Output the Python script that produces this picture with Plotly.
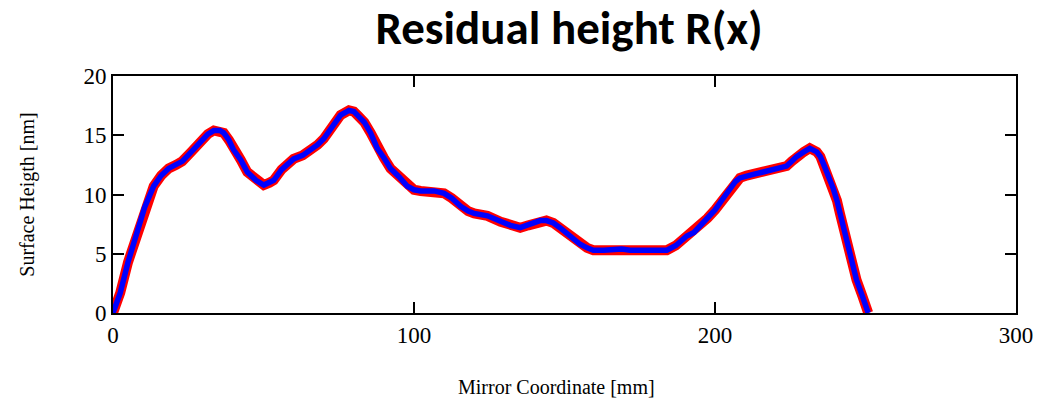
import plotly.graph_objects as go

# Mirror coordinate [mm] and residual height [nm]
x_mm = [0, 2.4, 5, 8, 10.5, 13.5, 16, 18.5, 21, 23, 26, 29, 31.5, 33.5, 35.5, 36.8,
        38.5, 40, 42.5, 44.6, 47.5, 50.1, 52, 53.4, 56, 58, 60, 63, 66.2, 68, 70,
        73, 75.6, 78.4, 80, 81.2, 83.5, 85.6, 87.8, 90, 92.2, 95, 97.8, 100, 102.2,
        106.7, 110, 112.5, 115.5, 118, 120, 124.4, 128.8, 132, 135.3, 138, 141.9,
        144, 146.3, 148.5, 150.7, 153, 155.2, 157.5, 159.6, 163, 166.2, 169, 171.8,
        175, 178.4, 181, 184, 187, 190.6, 193, 195, 197.5, 200, 202.5, 205, 206.8,
        208.3, 210.5, 212.7, 216, 219.4, 221.8, 223.8, 225.5, 227.1, 229.5, 231.5,
        233.8, 235, 236, 237.5, 239.3, 240.5, 241.5, 243, 244.8, 246, 247, 249,
        250.9]
height_nm = [0, 1.7, 4.3, 6.7, 8.9, 10.7, 11.6, 12.2, 12.5, 12.8, 13.6, 14.5, 15.1,
             15.4, 15.4, 15.2, 14.6, 13.8, 12.9, 11.9, 11.2, 10.8, 11.0, 11.2, 12.1,
             12.6, 13.0, 13.3, 13.8, 14.2, 14.7, 15.8, 16.7, 17.1, 17.0, 16.7, 16.1,
             15.2, 13.9, 13.1, 12.2, 11.5, 10.7, 10.4, 10.3, 10.3, 10.1, 9.7, 9.0,
             8.6, 8.4, 8.2, 7.7, 7.4, 7.2, 7.4, 7.8, 7.8, 7.6, 7.2, 6.7, 6.2, 5.8,
             5.5, 5.3, 5.3, 5.4, 5.4, 5.3, 5.3, 5.2, 5.3, 5.3, 5.7, 6.5, 6.8, 7.3,
             8.0, 8.7, 9.6, 10.5, 11.1, 11.4, 11.6, 11.7, 11.9, 12.1, 12.2, 12.4,
             12.8, 13.2, 13.6, 13.9, 13.6, 13.2, 12.6, 11.7, 10.5, 9.5, 8.4, 6.8,
             5.1, 3.9, 2.8, 1.4, 0]

x_ticks = [0, 100, 200, 300]
y_ticks = [0, 5, 10, 15, 20]

fig = go.Figure()
fig.add_trace(go.Scatter(x=x_mm, y=height_nm, mode="lines",
                         line=dict(color="#ff0000", width=10), showlegend=False,
                         hoverinfo="skip"))
fig.add_trace(go.Scatter(x=x_mm, y=height_nm, mode="lines",
                         line=dict(color="#0000ff", width=5.5), showlegend=False))

serif = "Liberation Serif, Times New Roman, serif"
axis_common = dict(
    showgrid=False, zeroline=False, showline=True, linecolor="black", linewidth=2,
    mirror="ticks", ticks="inside", ticklen=11, tickwidth=2, tickcolor="black",
    tickfont=dict(family=serif, size=23, color="black"), automargin=False,
)
fig.update_xaxes(range=[0, 300], tickvals=x_ticks, ticktext=[str(v) for v in x_ticks],
                 ticklabelstandoff=0, **axis_common)
fig.update_yaxes(range=[0, 20], tickvals=y_ticks, ticktext=[str(v) for v in y_ticks],
                 **axis_common)

# axis titles placed as annotations (pixel-matched positions)
fig.add_annotation(text="Mirror Coordinate [mm]", xref="paper", yref="paper",
                   x=0.4906, y=-0.314, xanchor="center", yanchor="middle",
                   showarrow=False, font=dict(family=serif, size=20, color="black"))
fig.add_annotation(text="Surface Heigth [nm]", xref="paper", yref="paper",
                   x=-0.095, y=0.5, xanchor="center", yanchor="middle", textangle=-90,
                   showarrow=False, font=dict(family=serif, size=20, color="black"))

# page body has an 8px margin, so the figure is sized/offset to compensate
fig.update_layout(
    width=1044, height=395,
    margin=dict(l=105, r=36, t=68, b=90),
    paper_bgcolor="white", plot_bgcolor="white",
    title=dict(text="<b>Residual height R(x)</b>", x=0.5374, xanchor="center",
               y=0.9494, yanchor="middle",
               font=dict(family="Carlito, Lato, Open Sans, sans-serif", size=47,
                         color="black")),
)

fig.write_html("out.html")
